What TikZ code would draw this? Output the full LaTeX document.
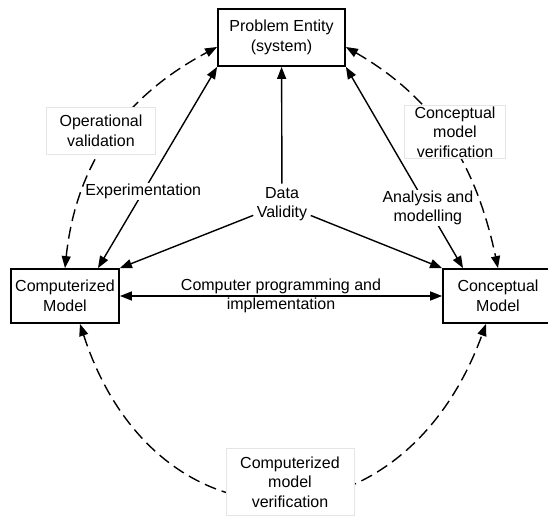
\documentclass[tikz,border=0pt]{standalone}
\usepackage{fontspec}
\setmainfont{Liberation Sans}
\usetikzlibrary{arrows.meta}

\begin{document}
\begin{tikzpicture}[x=1pt, y=1pt,
    font=\fontsize{16}{19.5}\selectfont,
    >={Triangle[length=12pt, width=9pt]},
    box/.style={draw, line width=1.8pt, align=center, minimum height=54pt, inner sep=0pt},
    lbl/.style={fill=white, draw=black!10, align=center},
    dasharc/.style={<->, line width=1.4pt, dash pattern=on 12pt off 6pt}]
    \useasboundingbox (0,0) rectangle (548,-518);
    \node[box, minimum width=127pt, minimum height=57pt] (prob) at (281.5,-37.5) {Problem Entity\\(system)};
    \node[box, minimum width=108pt] (comp) at (65,-296) {Computerized\\Model};
    \node[box, minimum width=110pt] (conc) at (498,-296) {Conceptual\\Model};
    \node[align=center] (data) at (282,-204) {Data\\Validity};
    % solid connectors
    \draw[->, line width=1.4pt] (data) -- (prob);
    \draw[->, line width=1.4pt] (data) -- (comp.north east);
    \draw[->, line width=1.4pt] (data) -- (conc.north west);
    \draw[<->, line width=1.4pt] ([xshift=33pt]comp.north) -- (prob.south west)
        node[pos=0.38, fill=white, inner sep=1pt] (exp) {Experimentation};
    \draw[<->, line width=1.4pt] ([xshift=-35pt]conc.north) -- (prob.south east)
        node[pos=0.3, fill=white, inner sep=1pt, align=center] (ana) {Analysis and\\modelling};
    \draw[<->, line width=1.4pt] (comp) -- (conc)
        node[midway, align=center] (prog) {Computer programming and\\implementation};
    % dashed arcs
    \draw[dasharc] (comp.north) to[out=84, in=208] ([yshift=-9.5pt]prob.west);
    \draw[dasharc] ([yshift=-9.5pt]prob.east) to[out=-30, in=102] (conc.north);
    \draw[dasharc] ([xshift=15pt]comp.south) to[out=-72, in=-110, looseness=1.55] ([xshift=-12pt]conc.south);
    \node[lbl, inner xsep=13pt, inner ysep=8pt] (opval) at (101,-131) {Operational\\validation};
    \node[lbl, inner xsep=10pt, inner ysep=1pt] (cmver) at (455,-132) {Conceptual\\model\\verification};
    \node[lbl, inner xsep=14pt, inner ysep=8pt] (cpver) at (290,-482) {Computerized\\model\\verification};
\end{tikzpicture}
\end{document}
